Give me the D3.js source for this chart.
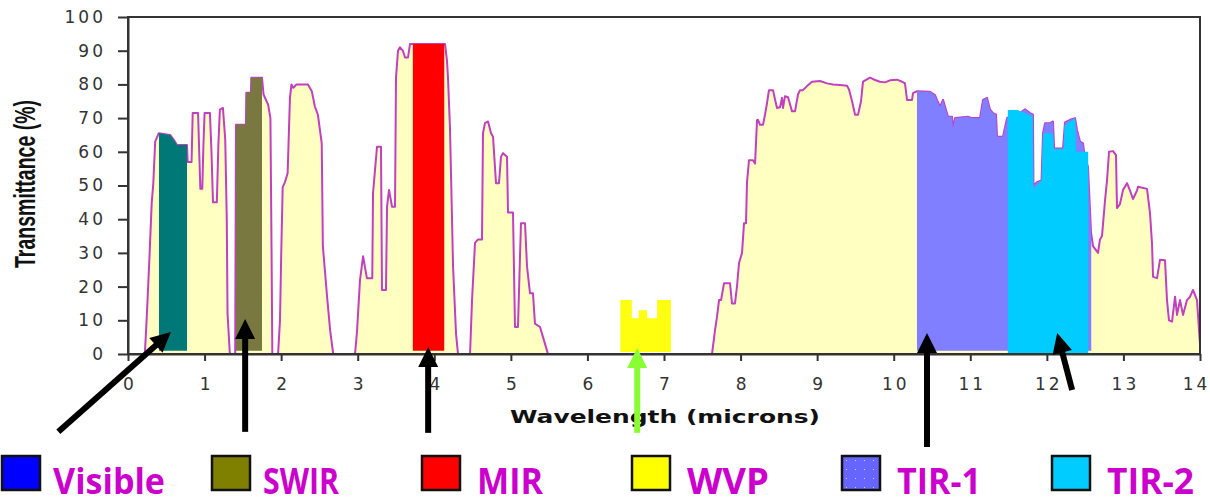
<!DOCTYPE html>
<html>
<head>
  <meta charset="utf-8">
  <title>Atmospheric transmittance</title>
  <script src="https://cdnjs.cloudflare.com/ajax/libs/d3/7.8.5/d3.min.js"></script>
  <style>
    body { margin: 0; background: #fff; }
    svg { display: block; }
  </style>
</head>
<body>
<script>
// ---- data (wavelength in microns, transmittance in %) ----
var spectrum = [
  [0,0],[0.22,0],[0.245,11],[0.28,28.5],[0.31,45],[0.33,50.5],[0.355,63],[0.40,65.5],[0.55,65],[0.60,63.5],[0.64,62],[0.77,62],
  [0.78,57],[0.83,57],[0.845,71.5],[0.915,71.5],[0.93,60],[0.945,49],[0.97,49],[0.985,62],[1.0,71.5],[1.07,71.5],[1.09,60],
  [1.11,45],[1.16,45],[1.18,62],[1.20,72.5],[1.24,73],[1.27,63.5],[1.29,40],[1.30,12],[1.33,0],[1.40,0],[1.41,68],[1.54,68],
  [1.545,77.5],[1.605,77.5],[1.61,82],[1.75,82],[1.77,77],[1.83,74],[1.86,70],[1.875,30],[1.885,0],[1.96,0],[1.985,10],
  [2.0,28.5],[2.02,49.5],[2.05,51],[2.085,53.7],[2.10,65],[2.115,76],[2.135,80],[2.16,79],[2.20,80],[2.35,80],[2.40,78],
  [2.44,73.5],[2.48,71],[2.53,62.5],[2.545,32],[2.60,17],[2.64,7],[2.68,0],
  [2.965,0],[2.99,6.4],[3.03,22],[3.07,29],[3.12,22.5],[3.19,22.5],[3.20,47.7],[3.226,54.6],[3.252,61.5],[3.304,61.5],
  [3.317,19],[3.369,19],[3.383,43.7],[3.409,48.7],[3.448,43.7],[3.487,43.7],[3.50,82],[3.526,90],[3.552,91],[3.59,90],
  [3.618,88],[3.657,88],[3.683,92],[3.72,92],[4.13,92],[4.14,92],[4.166,87],[4.179,82],[4.205,67],[4.231,40.7],[4.245,26],
  [4.284,6],[4.31,0],
  [4.467,0],[4.493,16],[4.532,33],[4.571,34],[4.623,34],[4.636,65.5],[4.662,68.5],[4.702,69],[4.741,65.5],[4.767,64.5],
  [4.806,50.7],[4.845,50.7],[4.871,58.5],[4.897,59.6],[4.95,58.5],[4.963,42],[5.028,42],[5.054,8],[5.093,8],[5.132,38.8],
  [5.185,38.8],[5.211,26],[5.25,18],[5.289,18],[5.315,9],[5.381,8],[5.42,5],[5.472,1],[5.485,0],
  [7.627,0],[7.666,7],[7.692,11],[7.719,16],[7.745,16],[7.784,21],[7.862,21],[7.888,15],[7.927,15],[7.953,20],[7.98,27],
  [8.019,30],[8.045,38.8],[8.071,38.8],[8.084,51],[8.11,57.5],[8.162,57.5],[8.189,56.5],[8.215,69.4],[8.228,69.5],
  [8.254,68],[8.293,68],[8.319,71],[8.345,74.4],[8.371,78.3],[8.424,78.3],[8.45,75.5],[8.476,73],[8.515,73.2],[8.541,76],
  [8.554,73],[8.58,76.5],[8.62,76.2],[8.672,72],[8.711,72],[8.75,77],[8.776,78.3],[8.815,78.3],[8.868,79.5],[8.933,80.8],
  [9.038,81],[9.129,80.3],[9.207,80],[9.299,79.8],[9.39,79.6],[9.416,78.5],[9.456,75],[9.495,71],[9.534,71],[9.573,75],
  [9.599,80.8],[9.69,82],[9.756,81.3],[9.821,80.8],[9.886,80.6],[9.952,81.2],[10.043,81.4],[10.109,80.8],[10.147,80.3],
  [10.174,75.4],[10.239,75.4],[10.252,77.4],[10.304,78],[10.474,77.8],[10.539,76.8],[10.565,75.4],[10.605,73.4],
  [10.644,75.4],[10.67,73.4],[10.709,70.4],[10.761,70.4],[10.774,67],[10.801,70],[10.97,70.4],[11.023,70],[11.127,70],
  [11.166,75.4],[11.219,76],[11.258,72.5],[11.297,71.5],[11.336,71],[11.349,64.5],[11.427,64.5],[11.48,70],[11.558,71],
  [11.649,71.5],[11.715,72.6],[11.78,71.5],[11.819,71],[11.825,50],[11.871,51],[11.93,51.5],[11.95,65.5],[11.976,68.5],
  [12.041,68.5],[12.08,69],[12.095,61],[12.211,61],[12.237,68.7],[12.303,69.5],[12.368,70],[12.394,66.5],[12.433,63],
  [12.472,62.5],[12.498,58],[12.537,55.6],[12.577,36],[12.603,32],[12.668,30],[12.694,34],[12.72,35],[12.76,45.7],
  [12.786,51.6],[12.812,60],[12.864,60.2],[12.903,59],[12.916,43.3],[12.955,44.5],[12.995,48.7],[13.047,50.7],
  [13.086,48.5],[13.125,46],[13.177,48.5],[13.19,49.6],[13.308,49],[13.347,41.8],[13.373,32.9],[13.387,22.9],
  [13.439,22.5],[13.478,28],[13.543,27.8],[13.569,16],[13.595,10],[13.635,9.6],[13.674,17],[13.70,11.6],[13.739,16],
  [13.778,11.6],[13.83,16],[13.87,17],[13.909,19],[13.961,16],[13.99,6],[14,3]
];

// own outline of the water-vapour and TIR-2 channel blocks
var wvpProfile = [[6.43,16],[6.58,16],[6.58,10.6],[6.67,10.6],[6.67,13],[6.78,13],[6.78,10.6],[6.91,10.6],[6.91,16],[7.09,16]];
var tir2Profile = [[11.49,72.4],[11.62,72.4],[11.815,70.5],[11.825,49],[11.93,51.5],[11.95,65.5],[12.08,65.5],[12.09,60.8],
                   [12.22,60.8],[12.23,67.7],[12.37,70],[12.38,60],[12.54,60]];

var bandNames = ["Visible", "SWIR", "MIR", "WVP", "TIR-1", "TIR-2"];
var bandRanges = [[0.405, 0.771], [1.41, 1.75], [3.72, 4.13], [6.43, 7.09], [10.304, 12.58], [11.49, 12.54]];
var bandFill = ["#007878", "#787840", "#ff0000", "#ffff10", "#7f7fff", "#00ccff"];
var legendFill = ["#0000ff", "#808000", "#ff0000", "#ffff00", "#6666ff", "#00ccff"];
var legendTextWidth = [112, 76, 66, 82, 84, 87];

var xTicks = [0, 1, 2, 3, 4, 5, 6, 7, 8, 9, 10, 11, 12, 13, 14];
var yTicks = [0, 10, 20, 30, 40, 50, 60, 70, 80, 90, 100];

// arrows: tail and tip in data units
var arrowTails = [[-0.91, -23.1], [1.53, -23.1], [3.92, -23.4], [6.65, -23.4], [10.435, -27.6], [12.33, -10.7]];
var arrowTips  = [[0.56, 6.5], [1.53, 10.4], [3.92, 2.1], [6.65, 1.8], [10.435, 6.2], [12.135, 6.2]];
var arrowColor = ["#000", "#000", "#000", "#88ff33", "#000", "#000"];

// ---- drawing ----
var W = 1210, H = 503;
var x = d3.scaleLinear().domain([0, 14]).range([128, 1200]);
var y = d3.scaleLinear().domain([0, 100]).range([354, 17]);

var svg = d3.select("body").append("svg").attr("width", W).attr("height", H);
svg.append("rect").attr("width", W).attr("height", H).attr("fill", "#fff");

var defs = svg.append("defs");
bandRanges.forEach(function (r, i) {
  defs.append("clipPath").attr("id", "band" + i).append("rect")
    .attr("x", x(r[0])).attr("y", 0)
    .attr("width", x(r[1]) - x(r[0])).attr("height", H);
});
var pat = defs.append("pattern").attr("id", "dots")
  .attr("patternUnits", "userSpaceOnUse").attr("width", 9).attr("height", 9);
pat.append("rect").attr("width", 9).attr("height", 9).attr("fill", "#6666ff");
pat.append("rect").attr("x", 4).attr("y", 4).attr("width", 1).attr("height", 1).attr("fill", "#c8c8ff");

var area = d3.area().x(function (d) { return x(d[0]); }).y0(y(0)).y1(function (d) { return y(d[1]); });
var bandArea = d3.area().x(function (d) { return x(d[0]); }).y0(y(1)).y1(function (d) { return y(d[1]); });
var line = d3.line().x(function (d) { return x(d[0]); }).y(function (d) { return y(d[1]); });

svg.append("path").datum(spectrum).attr("d", area).attr("fill", "#ffffc2");
svg.append("path").datum(spectrum).attr("d", line)
  .attr("fill", "none").attr("stroke", "#c040c0").attr("stroke-width", 2).attr("stroke-linejoin", "round");

// channel blocks
[0, 1, 2, 4].forEach(function (i) {
  svg.append("path").datum(spectrum).attr("d", bandArea)
    .attr("clip-path", "url(#band" + i + ")").attr("fill", bandFill[i]);
});
svg.append("path").datum(wvpProfile)
  .attr("d", d3.area().x(function (d) { return x(d[0]); }).y0(y(0.6)).y1(function (d) { return y(d[1]); }))
  .attr("fill", bandFill[3]);
svg.append("path").datum(tir2Profile)
  .attr("d", d3.area().x(function (d) { return x(d[0]); }).y0(y(-0.3)).y1(function (d) { return y(d[1]); }))
  .attr("fill", bandFill[5]);

// frame + axes
svg.append("rect").attr("x", x(0)).attr("y", y(100))
  .attr("width", x(14) - x(0)).attr("height", y(0) - y(100))
  .attr("fill", "none").attr("stroke", "#333").attr("stroke-width", 2);

var tickFont = function (g) {
  g.selectAll("text").attr("font-family", "DejaVu Sans").attr("font-size", 17)
    .attr("letter-spacing", 3).attr("fill", "#333");
  g.selectAll("line").attr("stroke", "#333").attr("stroke-width", 2);
  g.select(".domain").attr("stroke", "#333").attr("stroke-width", 2);
};
svg.append("g").attr("transform", "translate(" + x(0) + ",0)")
  .call(d3.axisLeft(y).tickValues(yTicks).tickSize(10).tickSizeOuter(0).tickPadding(12))
  .call(tickFont);
svg.append("g").attr("transform", "translate(0," + y(0) + ")")
  .call(d3.axisBottom(x).tickValues(xTicks).tickSize(7).tickSizeOuter(0).tickPadding(17))
  .call(tickFont)
  .selectAll("text").attr("dx", function (d) { return d === 14 ? -4 : 1.5; });

svg.append("text").text("Wavelength (microns)")
  .attr("x", 510).attr("y", 423)
  .attr("font-family", "DejaVu Sans").attr("font-weight", "bold").attr("font-size", 17)
  .attr("textLength", 310).attr("lengthAdjust", "spacingAndGlyphs").attr("fill", "#111");

svg.append("text").text("Transmittance (%)")
  .attr("transform", "translate(35,184) rotate(-90)")
  .attr("text-anchor", "middle")
  .attr("font-family", "Liberation Sans Narrow, Liberation Sans").attr("font-weight", "bold").attr("font-size", 29)
  .attr("textLength", 168).attr("lengthAdjust", "spacingAndGlyphs").attr("fill", "#111");

// arrows
arrowTails.forEach(function (t, i) {
  var x0 = x(t[0]), y0 = y(t[1]), x1 = x(arrowTips[i][0]), y1 = y(arrowTips[i][1]);
  var dx = x1 - x0, dy = y1 - y0, len = Math.sqrt(dx * dx + dy * dy);
  var ux = dx / len, uy = dy / len, nx = -uy, ny = ux;
  var bx = x1 - ux * 20, by = y1 - uy * 20;
  svg.append("line").attr("x1", x0).attr("y1", y0).attr("x2", bx + ux * 2).attr("y2", by + uy * 2)
    .attr("stroke", arrowColor[i]).attr("stroke-width", 6);
  svg.append("polygon")
    .attr("points", [[x1, y1], [bx + nx * 10, by + ny * 10], [bx - nx * 10, by - ny * 10]].join(" "))
    .attr("fill", arrowColor[i]);
});

// legend
var legend = svg.append("g").selectAll("g").data(bandNames).enter().append("g")
  .attr("transform", function (d, i) { return "translate(" + (2 + i * 210) + ",456)"; });
legend.append("rect").attr("width", 38).attr("height", 34)
  .attr("fill", function (d, i) { return i === 4 ? "url(#dots)" : legendFill[i]; })
  .attr("stroke", "#111").attr("stroke-width", 2.5);
legend.append("text").text(function (d) { return d; })
  .attr("x", function (d, i) { return i < 2 ? 51 : 55; }).attr("y", 37.5)
  .attr("font-family", "Open Sans").attr("font-weight", "bold").attr("font-size", 36)
  .attr("textLength", function (d, i) { return legendTextWidth[i]; })
  .attr("lengthAdjust", "spacingAndGlyphs")
  .attr("fill", "#cc00cc");
</script>
</body>
</html>
